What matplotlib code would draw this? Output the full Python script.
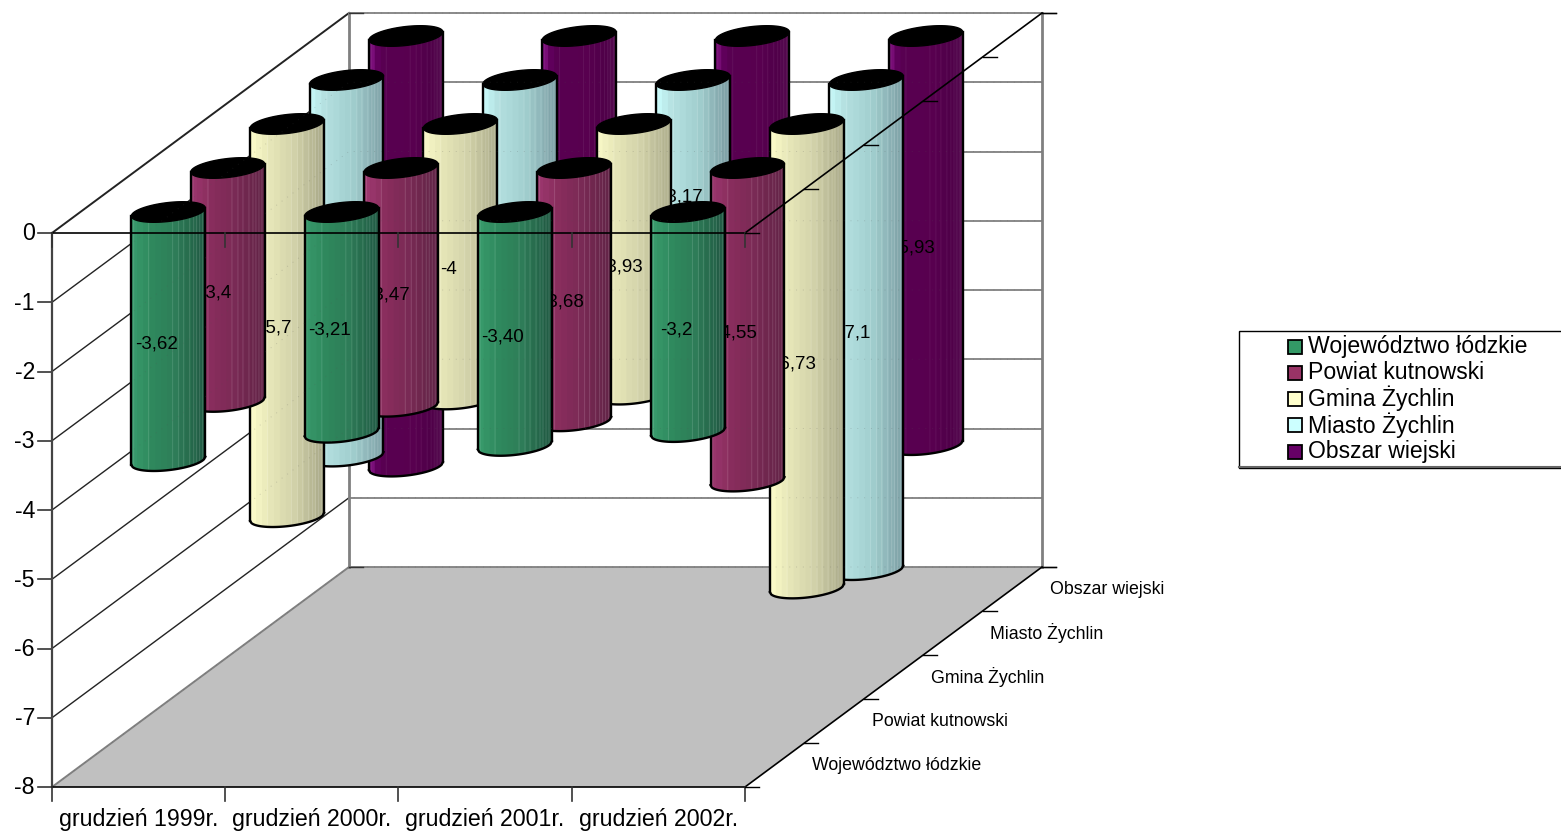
import numpy as np
from matplotlib import pyplot as plt
from matplotlib.colors import to_rgb
from matplotlib.patches import Polygon, Rectangle

plt.rcParams['font.family'] = ['Liberation Sans', 'DejaVu Sans']

categories = ['grudzień 1999r.', 'grudzień 2000r.', 'grudzień 2001r.', 'grudzień 2002r.']
series_names = ['Województwo łódzkie', 'Powiat kutnowski', 'Gmina Żychlin', 'Miasto Żychlin', 'Obszar wiejski']

wojewodztwo = [-3.62, -3.21, -3.40, -3.2]
powiat = [-3.4, -3.47, -3.68, -4.55]
gmina = [-5.7, -4, -3.93, -6.73]
miasto = [-5.46, -3.9, -3.17, -7.1]
obszar = [-6.24, -4.2, -4.1, -5.93]
series_values = [wojewodztwo, powiat, gmina, miasto, obszar]

value_labels = [
    ['-3,62', '-3,21', '-3,40', '-3,2'],
    ['-3,4', '-3,47', '-3,68', '-4,55'],
    ['-5,7', '-4', '-3,93', '-6,73'],
    ['-5,46', '-3,9', '-3,17', '-7,1'],
    ['-6,24', '-4,2', '-4,1', '-5,93'],
]
value_ticks = [0, -1, -2, -3, -4, -5, -6, -7, -8]

base_colors = ['#339966', '#993366', '#FFFFCC', '#CCFFFF', '#660066']
# left-to-right shading of each cylinder body
shades = [
    [(0, '#3A9F6F'), (.3, '#2F8A5E'), (.6, '#2E7D58'), (.85, '#25654A'), (1, '#1F5540')],
    [(0, '#A03A72'), (.3, '#8A2E5E'), (.6, '#7A2A55'), (1, '#5F2345')],
    [(0, '#FFFFCC'), (.3, '#E6E6B8'), (.6, '#D2D2AA'), (1, '#A8A888')],
    [(0, '#CCFFFF'), (.2, '#B8E4E4'), (.6, '#A0CDCD'), (1, '#7A9AA0')],
    [(0, '#8E1F8E'), (.08, '#6A0068'), (.16, '#580052'), (.6, '#58004F'), (.9, '#4E0048'), (1, '#5E1A58')],
]
pale_strips = [2, 17, 41, 47, 52, 58, 62, 65, 68, 71]

# pixel frame of the oblique 3d box
X0, Y0 = 52.0, 233.0
BOX_W = 693.0
UNIT_H = 69.25
DEPTH_X, DEPTH_Y = 297.0, -220.0
N_CAT = len(categories)
N_SER = len(series_names)

# lid ellipse terms and silhouette half width
LID_A, LID_B, LID_C = 34.0, 14.5, 10.3
RADIUS = np.hypot(LID_A, LID_B)


def project(cat, value, depth):
    # cat in category slots, value on the y scale, depth as 0..1 front to back
    return (X0 + cat * BOX_W / N_CAT + depth * DEPTH_X,
            Y0 - value * UNIT_H + depth * DEPTH_Y)


def front_arc(u):
    # screen offset of the front half of the sheared circle at u in -1..1
    t0 = np.arctan2(LID_B, LID_A)
    return -LID_C * np.sin(t0 - np.arccos(u))


def shade(stops, u):
    pos = [s[0] for s in stops]
    rgb = np.array([to_rgb(s[1]) for s in stops])
    return [np.interp(u, pos, rgb[:, k]) for k in range(3)]


def draw_cylinder(ax, i, j, value, label, z):
    cx, top = project(j + 0.5, 0, (i + 0.5) / N_SER)
    bot = top - value * UNIT_H - 1
    top += 1
    R = RADIUS
    n = 74
    edges = np.linspace(-1, 1, n + 1)
    uu = np.linspace(-1, 1, 60)

    # solid body under the strips so nothing leaks through the seams
    body = np.vstack([np.column_stack([cx + uu * R, top + front_arc(uu)]),
                      np.column_stack([cx + uu[::-1] * R, bot + front_arc(uu[::-1])])])
    ax.add_patch(Polygon(body, closed=True, fc=shade(shades[i], 0.5), ec='none', zorder=z))

    pale = 0.07 if i == 4 else 0.14
    for k in range(n):
        u1, u2 = edges[k], edges[k + 1]
        # shading comes in bands a few pixels wide
        col = shade(shades[i], (k // 6 * 6 + 3) / n)
        if k in pale_strips:
            col = [c + (1 - c) * pale for c in col]
        quad = [(cx + u1 * R, top + front_arc(u1)), (cx + u2 * R, top + front_arc(u2)),
                (cx + u2 * R, bot + front_arc(u2)), (cx + u1 * R, bot + front_arc(u1))]
        ax.add_patch(Polygon(quad, closed=True, fc=col, ec=col, lw=0.2, zorder=z + 0.05))
    ax.plot(cx + uu * R, bot + front_arc(uu), color='black', lw=1.7, zorder=z + 0.1)
    for side in (-1, 1):
        ax.plot([cx + side * R] * 2, [top + front_arc(side), bot + front_arc(side)],
                color='black', lw=1.7, zorder=z + 0.1)
    # black lid
    t = np.linspace(0, 2 * np.pi, 80)
    lid = np.column_stack([cx + LID_A * np.cos(t) + LID_B * np.sin(t), top - LID_C * np.sin(t)])
    ax.add_patch(Polygon(lid, closed=True, fc='black', ec='black', lw=1, zorder=z + 0.2))
    ax.text(cx - 12, (top + bot) / 2 + 8, label, fontsize=13.5, ha='center', va='center',
            color='black', zorder=z + 0.3)


fig = plt.figure(figsize=(15.61, 8.31), dpi=100)
ax = fig.add_axes([0, 0, 1, 1])
ax.set_xlim(0, 1561)
ax.set_ylim(831, 0)
ax.axis('off')

grey = '#808080'

# floor
floor = [project(0, -8, 0), project(N_CAT, -8, 0), project(N_CAT, -8, 1), project(0, -8, 1)]
ax.add_patch(Polygon(floor, closed=True, fc='#C0C0C0', ec='none', zorder=1))

# wall gridlines
for v in value_ticks:
    x1, y1 = project(0, v, 0)
    x2, y2 = project(0, v, 1)
    x3, y3 = project(N_CAT, v, 1)
    ax.plot([x1, x2], [y1, y2], color=grey if v == -8 else '#222222', lw=1.4 if v in (0, -8) else 1.0, zorder=2)
    ax.plot([x2, x3], [y2, y3], color=grey, lw=1.3, zorder=2)
    # value axis tick and label
    ax.plot([x1 - 14, x1], [y1, y1], color='#333333', lw=1.2, zorder=2)
    ax.text(x1 - 17, y1 + 1, str(v), fontsize=16.7, ha='right', va='center', color='black', zorder=2)
for cat in (0, N_CAT):
    x1, y1 = project(cat, 0, 1)
    x2, y2 = project(cat, -8, 1)
    ax.plot([x1, x2], [y1, y2], color=grey, lw=2, zorder=2)
    ax.plot([x1, x1 + 14], [y1, y1], color='#333333', lw=1, zorder=2)
    ax.plot([x2, x2 + 14], [y2, y2], color='#333333', lw=1, zorder=2)
x1, y1 = project(0, 0, 0)
x2, y2 = project(0, -8, 0)
ax.plot([x1, x2], [y1, y2], color='#444444', lw=1.6, zorder=2)

# cylinders, back row first
z = 10
for i in range(N_SER - 1, -1, -1):
    for j in range(N_CAT):
        draw_cylinder(ax, i, j, series_values[i][j], value_labels[i][j], z)
        z += 1

# gridlines show faintly through the cylinders
for v in value_ticks:
    x1, y1 = project(0, v, 0)
    x2, y2 = project(0, v, 1)
    x3, y3 = project(N_CAT, v, 1)
    ax.plot([x1, x2, x3], [y1, y2, y3], color='#555555', lw=0.7, alpha=0.22,
            linestyle=(0, (1, 6)), zorder=z)

# axis frame at value 0 and at the floor, over the cylinders
z += 1
for v in (0, -8):
    x1, y1 = project(0, v, 0)
    x2, y2 = project(N_CAT, v, 0)
    ax.plot([x1, x2], [y1, y2], color='black', lw=1.2, zorder=z)
    x3, y3 = project(N_CAT, v, 1)
    ax.plot([x2, x3], [y2, y3], color='black', lw=1.2, zorder=z)
    for k in range(N_CAT + 1):
        xt, yt = project(k, v, 0)
        ax.plot([xt, xt], [yt, yt + 14], color='#333333', lw=1.2, zorder=z)
    for k in range(N_SER + 1):
        xt, yt = project(N_CAT, v, k / N_SER)
        ax.plot([xt, xt + 14], [yt, yt], color='black', lw=1, zorder=z)

# category labels
for j, name in enumerate(categories):
    xt, yt = project(j + 0.5, -8, 0)
    ax.text(xt, yt + 32.5, name, fontsize=16.7, ha='center', va='center', color='black', zorder=z)

# depth axis labels
for i, name in enumerate(series_names):
    xt, yt = project(N_CAT, -8, (i + 0.5) / N_SER)
    ax.text(xt + 37.5, yt, name, fontsize=12.75, ha='left', va='center', color='black', zorder=z)

# legend box
ax.add_patch(Rectangle((1239.5, 330.5), 350, 137, fc='white', ec='black', lw=1, zorder=z))
ax.plot([1239, 1561], [467, 467], color='#666666', lw=1.5, zorder=z)
for i, name in enumerate(series_names):
    y = 346 + i * 26.3
    ax.add_patch(Rectangle((1288, y - 6.5), 14, 14, fc=base_colors[i], ec='black', lw=1.3, zorder=z + 1))
    ax.text(1308, y, name, fontsize=16.6, ha='left', va='center', color='black', zorder=z + 1)

fig.savefig('out.png', dpi=100)
